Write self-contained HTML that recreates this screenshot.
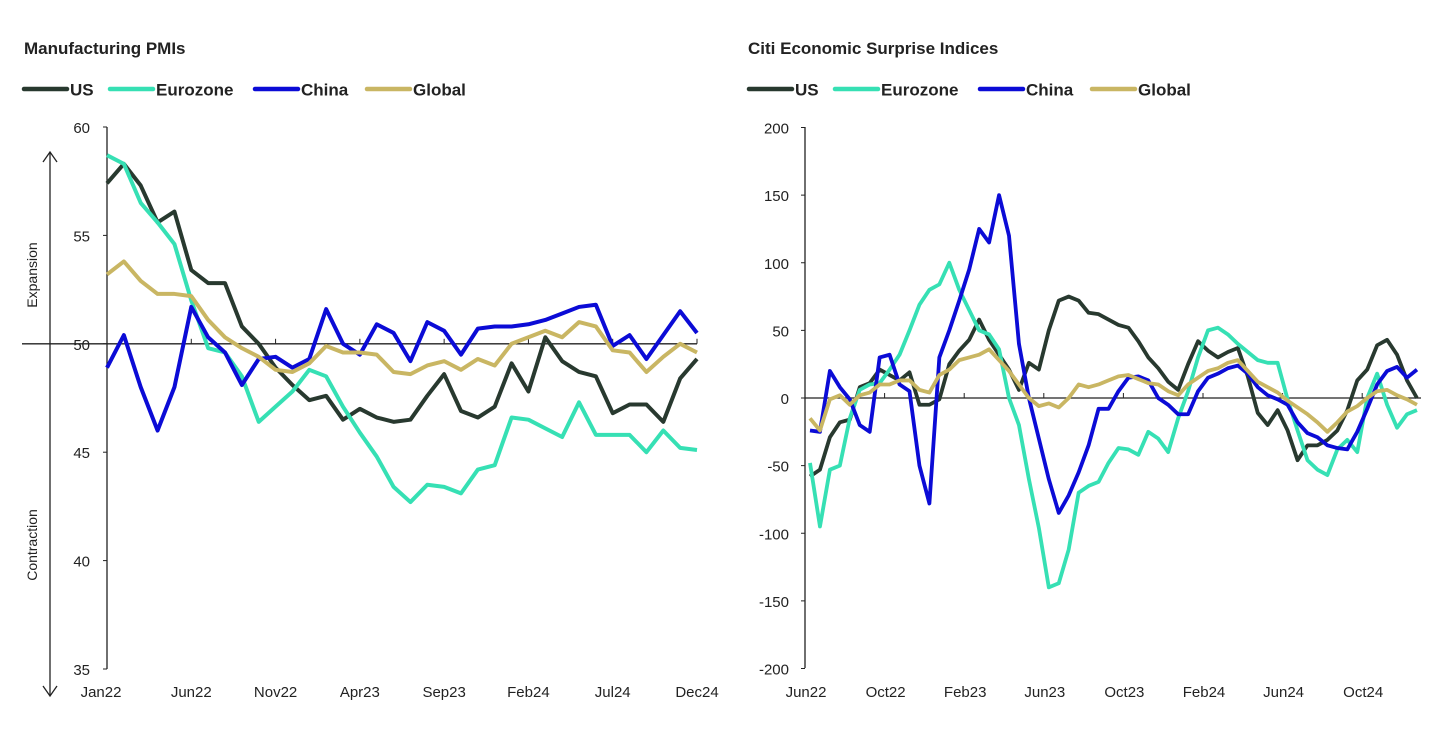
<!DOCTYPE html>
<html><head><meta charset="utf-8"><style>
body{margin:0;background:#fff;}
svg text{font-family:"Liberation Sans",Arial,sans-serif;fill:#222;}
</style></head><body>
<svg id="c" width="1456" height="744" viewBox="0 0 1456 744" xmlns="http://www.w3.org/2000/svg">
<text x="24" y="54" font-size="17" font-weight="bold">Manufacturing PMIs</text>
<text x="748" y="54" font-size="17" font-weight="bold">Citi Economic Surprise Indices</text>
<g id="L"></g><g id="R"></g>
</svg>
<script>
// Left chart data (monthly Jan22..Dec24)
const pmiTicks=[35,40,45,50,55,60];
const pmiXLabels=["Jan22","Jun22","Nov22","Apr23","Sep23","Feb24","Jul24","Dec24"];
const pmiUS=[57.4,58.3,57.3,55.6,56.1,53.4,52.8,52.8,50.8,50.0,48.9,48.1,47.4,47.6,46.5,47.0,46.6,46.4,46.5,47.6,48.6,46.9,46.6,47.1,49.1,47.8,50.3,49.2,48.7,48.5,46.8,47.2,47.2,46.4,48.4,49.3];
const pmiEZ=[58.7,58.3,56.5,55.6,54.6,52.0,49.8,49.6,48.5,46.4,47.1,47.8,48.8,48.5,47.1,45.9,44.8,43.4,42.7,43.5,43.4,43.1,44.2,44.4,46.6,46.5,46.1,45.7,47.3,45.8,45.8,45.8,45.0,46.0,45.2,45.1];
const pmiCN=[48.9,50.4,48.0,46.0,48.0,51.7,50.3,49.6,48.1,49.3,49.4,48.9,49.3,51.6,50.0,49.5,50.9,50.5,49.2,51.0,50.6,49.5,50.7,50.8,50.8,50.9,51.1,51.4,51.7,51.8,49.9,50.4,49.3,50.4,51.5,50.5];
const pmiGL=[53.2,53.8,52.9,52.3,52.3,52.2,51.1,50.3,49.8,49.4,48.8,48.7,49.1,49.9,49.6,49.6,49.5,48.7,48.6,49.0,49.2,48.8,49.3,49.0,50.0,50.3,50.6,50.3,51.0,50.8,49.7,49.6,48.7,49.4,50.0,49.6];
// Right chart data (half-month samples from Jun22)
const cesiTicks=[-200,-150,-100,-50,0,50,100,150,200];
const cesiXLabels=["Jun22","Oct22","Feb23","Jun23","Oct23","Feb24","Jun24","Oct24"];
const cesiUS=[-58,-53,-29,-18,-16,8,11,21,17,13,19,-5,-5,-1,25,35,43,58,43,32,21,6,26,21,50,72,75,72,63,62,58,54,52,42,30,22,12,6,25,42,35,30,34,37,16,-11,-20,-9,-24,-46,-35,-35,-31,-24,-9,13,21,39,43,32,13,0];
const cesiEZ=[-48,-95,-53,-50,-15,6,10,11,21,32,50,69,80,84,100,80,65,50,47,36,0,-20,-60,-96,-140,-137,-112,-70,-65,-62,-48,-37,-38,-42,-25,-30,-40,-15,5,30,50,52,47,40,34,28,26,26,-1,-24,-46,-53,-57,-38,-31,-40,0,18,-5,-22,-12,-9];
const cesiCN=[-24,-25,20,8,-1,-20,-25,30,32,10,5,-50,-78,30,50,72,95,125,115,150,120,40,0,-30,-60,-85,-72,-55,-35,-8,-8,5,15,16,13,0,-5,-12,-12,5,15,18,22,24,18,8,2,-1,-5,-18,-26,-29,-35,-37,-38,-25,-8,10,20,23,15,21];
const cesiGL=[-15,-24,-1,2,-5,2,4,10,10,13,13,6,4,17,21,28,30,32,36,28,20,10,0,-6,-4,-7,0,10,8,10,13,16,17,14,11,10,5,2,10,15,20,22,26,28,20,12,8,4,-2,-7,-12,-18,-25,-18,-10,-6,0,5,6,2,-1,-5];

const NS="http://www.w3.org/2000/svg";
const COL={US:"#28392f",Eurozone:"#36e0b4",China:"#0b0bd6",Global:"#c9b663"};
function mk(p,t,a){const e=document.createElementNS(NS,t);for(const k in a)e.setAttribute(k,a[k]);p.appendChild(e);return e;}

function legend(g,x0){
  const names=["US","Eurozone","China","Global"];const w=[0,86,231,343];
  names.forEach((n,i)=>{
    const lg=mk(g,'g',{});
    
    
    mk(lg,'line',{x1:x0+w[i],x2:x0+w[i]+43,y1:89,y2:89,stroke:COL[n],'stroke-width':4.5,'stroke-linecap':'round'});
    const t=mk(lg,'text',{x:x0+w[i]+46,y:95.5,'font-size':17,'font-weight':'bold',fill:'#1f2a24'});t.textContent=n;
  });
}

// ---------- Left
const L=document.getElementById('L');
const lx=i=>107+i*(590/35), ly=v=>669-(v-35)*(542/25);
legend(L,24);
mk(L,'line',{x1:107,x2:107,y1:127,y2:669,stroke:'#222','stroke-width':1.3});
pmiTicks.forEach(v=>{
  const t=mk(L,'text',{x:90,y:ly(v)+6,'font-size':15,'text-anchor':'end'});
  
  t.textContent=v;
  mk(L,'line',{x1:103,x2:107,y1:ly(v),y2:ly(v),stroke:'#222'});
});
mk(L,'line',{x1:22,x2:697,y1:ly(50),y2:ly(50),stroke:'#222','stroke-width':1.3});
pmiXLabels.forEach((s,i)=>{
  const x=lx(i*5);
  mk(L,'line',{x1:x,x2:x,y1:ly(50)-5,y2:ly(50),stroke:'#222'});
  const t=mk(L,'text',{x:i==0?101:x,y:697,'font-size':15,'text-anchor':'middle'});
  
  t.textContent=s;
});
mk(L,'line',{x1:50,x2:50,y1:153,y2:695,stroke:'#222','stroke-width':1.3});
mk(L,'polyline',{points:"43,162 50,152 57,162",fill:'none',stroke:'#222','stroke-width':1.3});
mk(L,'polyline',{points:"43,686 50,696 57,686",fill:'none',stroke:'#222','stroke-width':1.3});
let te=mk(L,'text',{x:0,y:0,'font-size':14,'text-anchor':'middle',transform:'translate(37,275) rotate(-90)'});te.textContent="Expansion";

te=mk(L,'text',{x:0,y:0,'font-size':14,'text-anchor':'middle',transform:'translate(37,545) rotate(-90)'});te.textContent="Contraction";

[["US",pmiUS],["Eurozone",pmiEZ],["China",pmiCN],["Global",pmiGL]].forEach(([n,arr])=>{
  const p=mk(L,'polyline',{points:arr.map((v,i)=>lx(i)+','+ly(v)).join(' '),fill:'none',stroke:COL[n],'stroke-width':4,'stroke-linejoin':'round'});
  
  
});

// ---------- Right
const R=document.getElementById('R');
const rx=i=>810+i*9.95, ry=v=>398-v*(541/400);
legend(R,749);
mk(R,'line',{x1:805,x2:805,y1:127,y2:668,stroke:'#222','stroke-width':1.3});
cesiTicks.forEach(v=>{
  const t=mk(R,'text',{x:789,y:ry(v)+6,'font-size':15,'text-anchor':'end'});
  
  t.textContent=v;
  mk(R,'line',{x1:801,x2:805,y1:ry(v),y2:ry(v),stroke:'#222'});
});
mk(R,'line',{x1:805,x2:1421,y1:ry(0),y2:ry(0),stroke:'#222','stroke-width':1.3});
cesiXLabels.forEach((s,i)=>{
  const x=805+i*79.6;
  mk(R,'line',{x1:x,x2:x,y1:ry(0)-5,y2:ry(0),stroke:'#222'});
  const t=mk(R,'text',{x:x+1,y:697,'font-size':15,'text-anchor':'middle'});
  
  t.textContent=s;
});
[["US",cesiUS],["Eurozone",cesiEZ],["China",cesiCN],["Global",cesiGL]].forEach(([n,arr])=>{
  const p=mk(R,'polyline',{points:arr.map((v,i)=>rx(i)+','+ry(v)).join(' '),fill:'none',stroke:COL[n],'stroke-width':3.8,'stroke-linejoin':'round'});
  
  
});
</script>
</body></html>
